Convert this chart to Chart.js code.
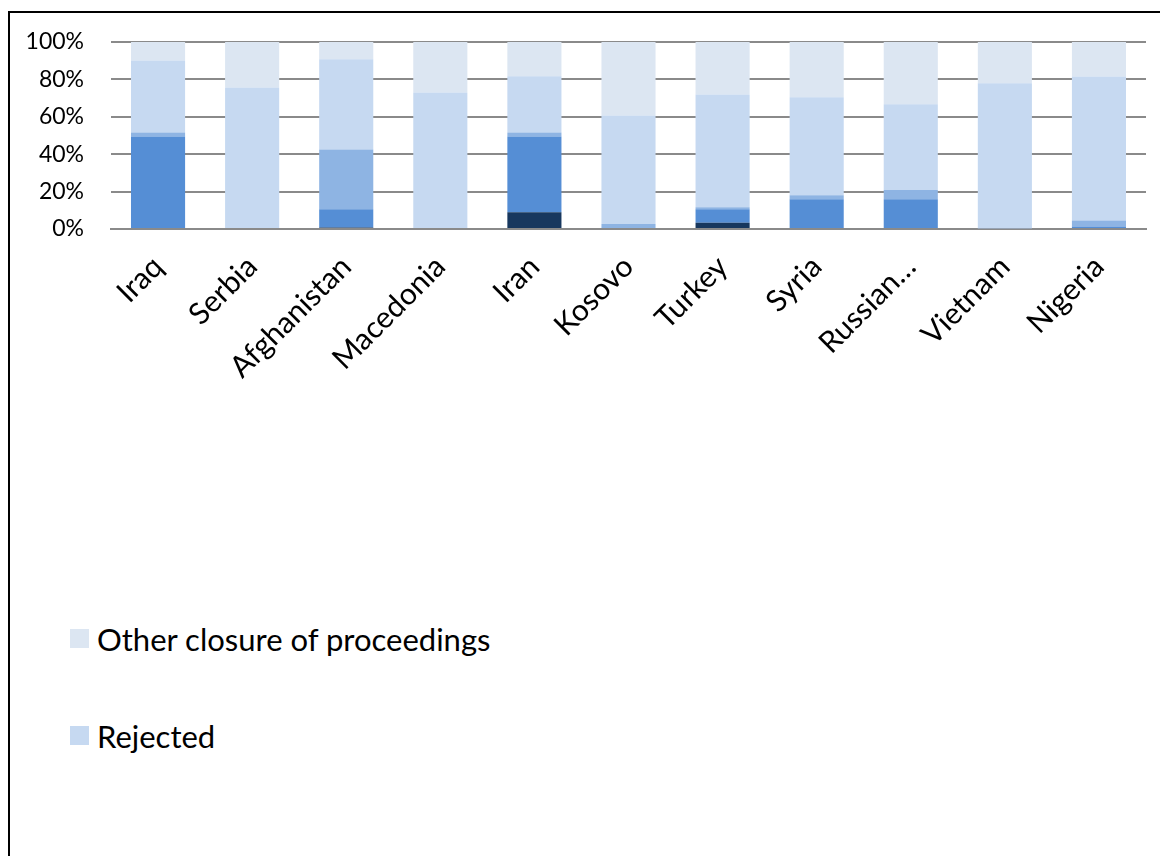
<!DOCTYPE html>
<html>
<head>
<meta charset="utf-8">
<script src="https://cdn.jsdelivr.net/npm/chart.js@4"></script>
<style>
  html, body { margin: 0; padding: 0; background: #fff; }
  body { width: 1160px; height: 856px; position: relative; overflow: hidden; font-family: Lato, sans-serif; }
  #frame { position: absolute; left: 8px; top: 11px; width: 1200px; height: 900px; border-left: 2px solid #000; border-top: 2px solid #000; }
  #chartBox { position: absolute; left: 0; top: 0; width: 1160px; height: 420px; }
  #legend { position: absolute; left: 70px; top: 624px; }
  .item { display: flex; align-items: center; height: 29px; margin-bottom: 68px; font-size: 31px; color: #000; }
  .item span.box { width: 19px; height: 19px; margin-right: 8px; display: inline-block; }
</style>
</head>
<body>
<div id="frame"></div>
<div id="chartBox"><canvas id="grafico"></canvas></div>
<div id="legend"></div>
<script>
// Ausgang der Asylverfahren nach Herkunftsland, Anteile in %
const countries = ['Iraq', 'Serbia', 'Afghanistan', 'Macedonia', 'Iran', 'Kosovo', 'Turkey', 'Syria', 'Russian Federation', 'Vietnam', 'Nigeria'];
const asylum     = [0.5, 0,    0.8,  0,  8.9,  0,    3.4,  0.5,  0.5,  0,    0];
const refugee    = [49,  0,    9.7,  0,  40.6, 0,    7.1,  15.4, 15.4, 0,    1.4];
const subsidiary = [2.1, 0.5,  32,   0,  2.1,  2.7,  1.1,  2.1,  4.9,  0.4,  3.2];
const rejected   = [38.5, 75.2, 48.3, 73, 30.1, 58,  60.3, 52.5, 45.9, 77.6, 76.9];
const otherClosure = [9.9, 24.3, 9.2, 27, 18.3, 39.3, 28.1, 29.5, 33.3, 22,  18.5];
const yTicks = [0, 20, 40, 60, 80, 100];

const series = [
    { label: 'Recognition as entitled to asylum', data: asylum, color: '#17375e', legend: false },
    { label: 'Refugee protection', data: refugee, color: '#558ed5', legend: false },
    { label: 'Subsidiary protection', data: subsidiary, color: '#8eb4e3', legend: false },
    { label: 'Rejected', data: rejected, color: '#c6d9f1', legend: true },
    { label: 'Other closure of proceedings', data: otherClosure, color: '#dce6f2', legend: true }
];

const font = 'Lato, sans-serif';
const gridGray = '#8a8a8a';

const chart = new Chart(document.getElementById('grafico'), {
    type: 'bar',
    data: {
        labels: countries,
        datasets: series.map(s => ({
            label: s.label,
            data: s.data,
            backgroundColor: s.color,
            borderWidth: 0,
            categoryPercentage: 1,
            barPercentage: 0.575
        }))
    },
    options: {
        responsive: true,
        maintainAspectRatio: false,
        animation: false,
        layout: { padding: { top: 42, right: 14, left: 0, bottom: 0 } },
        plugins: { legend: { display: false }, tooltip: { enabled: false } },
        scales: {
            x: {
                stacked: true,
                grid: { display: false, drawTicks: false },
                border: { display: true, color: gridGray, width: 2 },
                ticks: {
                    color: '#000', font: { family: font, size: 30 },
                    minRotation: 45, maxRotation: 45, autoSkip: false, padding: 20,
                    callback: function (v) {
                        const name = this.getLabelForValue(v);
                        return name.length > 12 ? name.split(' ')[0] + '…' : name;
                    }
                },
                afterFit: scale => { scale.height = 420 - 229; }
            },
            y: {
                stacked: true, min: 0, max: 100,
                afterBuildTicks: scale => { scale.ticks = yTicks.map(v => ({ value: v })); },
                grid: { color: gridGray, lineWidth: 2, drawTicks: false },
                border: { display: false },
                ticks: { color: '#000', font: { family: font, size: 23 }, padding: 27, callback: v => v + '%' },
                afterFit: scale => { scale.width = 111; }
            }
        }
    }
});

// Leyenda: sólo las dos últimas series, de arriba a abajo
const legendDiv = document.getElementById('legend');
series.filter(s => s.legend).reverse().forEach(s => {
    const row = document.createElement('div');
    row.className = 'item';
    row.innerHTML = `<span class="box" style="background:${s.color}"></span>${s.label}`;
    legendDiv.appendChild(row);
});
</script>
</body>
</html>
